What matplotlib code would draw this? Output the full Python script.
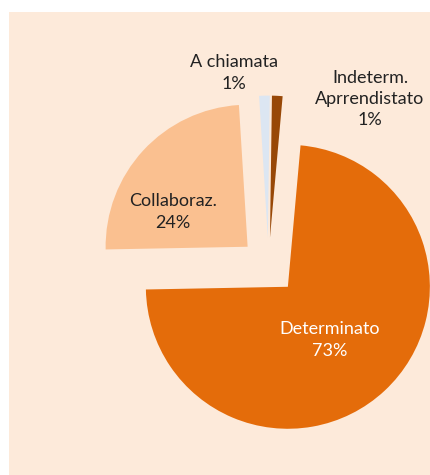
import matplotlib.pyplot as plt
from matplotlib.patches import Rectangle

# contract types share (%), clockwise from 12 o'clock
categories = ["Indeterm.\nAprrendistato", "Determinato", "Collaboraz.", "A chiamata"]
values = [1.2, 73.2, 24.3, 1.2]
colors = ["#984807", "#E46C0A", "#FAC090", "#DCE6F2"]
text_colors = ["#222222", "white", "#222222", "#222222"]

plt.rcParams['font.family'] = ['Lato', 'DejaVu Sans']

W, H = 430, 475
fig = plt.figure(figsize=(W / 100, H / 100), dpi=100, facecolor="white")
fig.patches.append(Rectangle((9 / W, 0), 421 / W, 463 / H, transform=fig.transFigure,
                             facecolor="#FDEADA", edgecolor="none", zorder=-5))

# axes in pixel units, y measured up from bottom of the figure
ax = fig.add_axes([9 / W, 0, 421 / W, 463 / H])
ax.set_zorder(1)
cx, cy, r = 268.5, H - 266, 142
# explode is in data units here (pixels), ~20% of radius
wedges, _ = ax.pie(values, colors=colors, startangle=89.2, counterclock=False,
                   explode=[0.2 * r] * 4, center=(cx, cy), radius=r,
                   wedgeprops=dict(linewidth=0))
ax.set_xlim(9, 430)
ax.set_ylim(0, 463)
ax.set_aspect("equal")
ax.axis("off")

# label positions in screen pixels (x, y from top)
label_pos = [(370, 99), (330, 340), (173, 212), (234, 73)]
for name, v, (lx, ly), tc in zip(categories, values, label_pos, text_colors):
    ax.text(lx, H - ly, "%s\n%d%%" % (name, round(v)), ha="center", va="center",
            fontsize=13, color=tc, linespacing=1.4)

fig.savefig("out.png", dpi=100, facecolor="white")
